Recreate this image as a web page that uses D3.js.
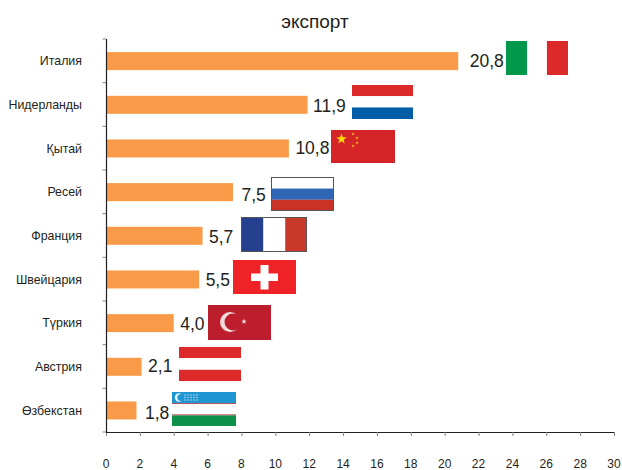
<!DOCTYPE html>
<html><head><meta charset="utf-8">
<script src="https://cdn.jsdelivr.net/npm/d3@7"></script>
<style>html,body{margin:0;padding:0;background:#fff}svg{display:block}text{font-family:"Liberation Sans",Arial,sans-serif;fill:#231f20}</style>
</head><body><div id="c"></div>
<script>
const title = "экспорт";
const categories = ["Италия","Нидерланды","Қытай","Ресей","Франция","Швейцария","Түркия","Австрия","Өзбекстан"];
const values = [20.8,11.9,10.8,7.5,5.7,5.5,4.0,2.1,1.8];
const valueLabels = ["20,8","11,9","10,8","7,5","5,7","5,5","4,0","2,1","1,8"];
const flagIds = ["it","nl","cn","ru","fr","ch","tr","at","uz"];
const xTicks = d3.range(0,31,2);

const W=622,H=470;
const svg=d3.select("#c").append("svg").attr("width",W).attr("height",H);
const x=d3.scaleLinear().domain([0,30]).range([106,614]);
const y=d3.scaleBand().domain(categories).range([39,432]);
const barH=18;

svg.append("text").attr("x",315).attr("y",28).attr("text-anchor","middle").attr("font-size",19).text(title);

// bars
svg.selectAll("rect.bar").data(categories).join("rect").attr("class","bar")
 .attr("x",x(0)).attr("y",c=>y(c)+y.bandwidth()/2-barH/2+0.3)
 .attr("width",(c,i)=>x(values[i])-x(0)).attr("height",barH).attr("fill","#f89a48");

// axes
const ax=svg.append("g").attr("transform","translate(0,432)").call(d3.axisBottom(x).tickValues(xTicks).tickSize(4).tickPadding(0).tickFormat(""));
ax.select(".domain").attr("stroke","#231f20").attr("stroke-width",1.2).attr("d","M106,0.5H614.5");
ax.selectAll(".tick line").attr("stroke","#808285").attr("stroke-width",1);
svg.selectAll("text.xl").data(xTicks).join("text").attr("class","xl").attr("x",d=>x(d)).attr("y",468)
 .attr("text-anchor","middle").attr("font-size",12).text(d=>d);
const ya=svg.append("g");
ya.append("line").attr("x1",106.5).attr("x2",106.5).attr("y1",39).attr("y2",433).attr("stroke","#231f20").attr("stroke-width",1.2);
ya.selectAll("line.t").data(d3.range(0,10)).join("line").attr("class","t")
 .attr("x1",102.5).attr("x2",106).attr("y1",i=>39+i*y.step()).attr("y2",i=>39+i*y.step())
 .attr("stroke","#808285");
svg.selectAll("text.cl").data(categories).join("text").attr("class","cl")
 .attr("x",82).attr("y",c=>y(c)+y.bandwidth()/2+4.5).attr("text-anchor","end").attr("font-size",12.4).text(c=>c);

// value labels and flags: offsets in px from the bar end
const labelGap=[11.5,5.5,6.5,8.5,6.5,6.5,6.5,6.5,8.5];
svg.selectAll("text.vl").data(categories).join("text").attr("class","vl")
 .attr("x",(c,i)=>x(values[i])+labelGap[i]).attr("y",(c,i)=>y(c)+y.bandwidth()/2+[6,7.5,6,9.5,7.5,6.5,7.5,5.5,8.5][i])
 .attr("font-size",17.5).text((c,i)=>valueLabels[i]);

const flagGeom={it:[506,41,62,34],nl:[352,85,61,34],cn:[331,130,64,33],ru:[271,177,63,34],fr:[241,217,66,35],ch:[233,260,63,34],tr:[208,305,63,35],at:[179,347,62,34],uz:[172,392,64,34]};
function stripesH(g,w,h,cols,fr){let t=0;cols.forEach((c,i)=>{g.append("rect").attr("y",t*h).attr("width",w).attr("height",fr[i]*h).attr("fill",c);t+=fr[i];});}
function stripesV(g,w,h,cols,fr){let t=0;cols.forEach((c,i)=>{g.append("rect").attr("x",t*w).attr("width",fr[i]*w).attr("height",h).attr("fill",c);t+=fr[i];});}
function star(g,cx,cy,r,fill){const p=d3.range(10).map(i=>{const a=-Math.PI/2+i*Math.PI/5,q=i%2?r*0.42:r;return [cx+q*Math.cos(a),cy+q*Math.sin(a)];});g.append("polygon").attr("points",p.map(d=>d.join(",")).join(" ")).attr("fill",fill);}
const draw={
 it(g,w,h){stripesV(g,w,h,["#00984a","#fff","#dc2a2a"],[.34,.32,.34]);},
 nl(g,w,h){stripesH(g,w,h,["#dc2a2a","#fff","#005ea8"],[.33,.33,.34]);},
 cn(g,w,h){g.append("rect").attr("width",w).attr("height",h).attr("fill","#d52427");
   star(g,10.5,9,5.5,"#fbd800");
   [[22,4],[26,8],[26,13],[22,16]].forEach(d=>star(g,d[0],d[1],1.9,"#e8a020"));},
 ru(g,w,h){stripesH(g,w,h,["#fff","#2f66b5","#c93227"],[.34,.33,.33]);
   g.append("rect").attr("x",.5).attr("y",.5).attr("width",w-1).attr("height",h-1).attr("fill","none").attr("stroke","#555");},
 fr(g,w,h){stripesV(g,w,h,["#25408f","#fff","#c9392a"],[.34,.33,.33]);
   g.append("rect").attr("x",.5).attr("y",.5).attr("width",w-1).attr("height",h-1).attr("fill","none").attr("stroke","#555");},
 ch(g,w,h){g.append("rect").attr("width",w).attr("height",h).attr("fill","#ee2227");
   g.append("rect").attr("x",18).attr("y",13.5).attr("width",27).attr("height",7.5).attr("fill","#fff");
   g.append("rect").attr("x",27.5).attr("y",5).attr("width",8).attr("height",24.5).attr("fill","#fff");},
 tr(g,w,h){g.append("rect").attr("width",w).attr("height",h).attr("fill","#bc1e2d");
   g.append("circle").attr("cx",22).attr("cy",17).attr("r",10).attr("fill","#f3dcdc");
   g.append("circle").attr("cx",25).attr("cy",17).attr("r",8.5).attr("fill","#bc1e2d");
   star(g,36,16.5,2.8,"#f3dcdc");},
 at(g,w,h){stripesH(g,w,h,["#dc2a2a","#fff","#dc2a2a"],[.33,.34,.33]);},
 uz(g,w,h){stripesH(g,w,h,["#1f95d2","#a8323a","#fff","#a8323a","#0d9048"],[.33,.03,.3,.03,.31]);
   g.append("circle").attr("cx",7).attr("cy",5.5).attr("r",4.2).attr("fill","#e6f2fa");
   g.append("circle").attr("cx",9).attr("cy",5.5).attr("r",3.6).attr("fill","#1f95d2");
   [13,16,19,22,25].forEach(a=>[3,5.5,8].forEach(b=>g.append("circle").attr("cx",a).attr("cy",b).attr("r",.7).attr("fill","#cfe8f5")));}
};
flagIds.forEach(id=>{const [fx,fy,w,h]=flagGeom[id];const g=svg.append("g").attr("transform",`translate(${fx},${fy})`);draw[id](g,w,h);});
</script></body></html>
